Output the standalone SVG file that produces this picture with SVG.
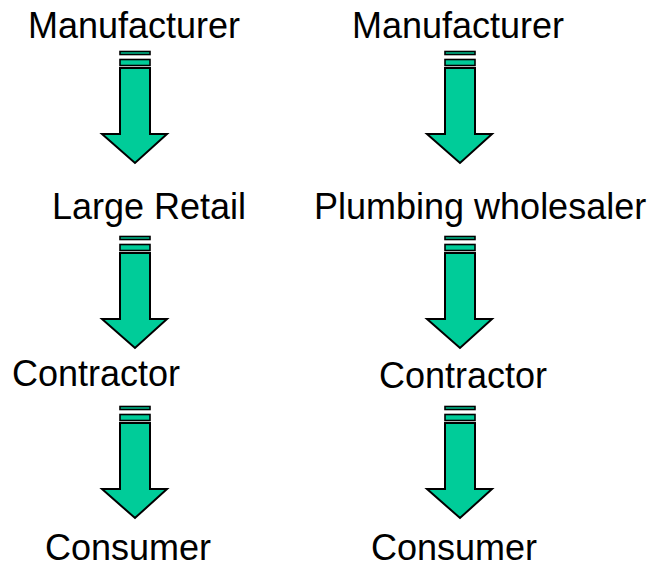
<svg xmlns="http://www.w3.org/2000/svg" xmlns:xlink="http://www.w3.org/1999/xlink" width="658" height="568" viewBox="0 0 658 568">
<style>
  .lbl { font-family: "Liberation Sans", Arial, sans-serif; font-size: 36px; fill: #000; }
  .ar { fill: #00CC99; stroke: #000; stroke-width: 2; stroke-linejoin: miter; }
  .st { fill: #00CC99; stroke: #000; stroke-width: 1.6; }
</style>
<defs>
  <g id="arrow">
    <rect class="st" x="-15" y="-16.5" width="30" height="3"/>
    <rect class="st" x="-15" y="-8.5" width="30" height="6"/>
    <path class="ar" d="M-15,0 H15 V66 H32 L0,95 L-33,66 H-15 Z"/>
  </g>
</defs>
<rect width="658" height="568" fill="#fff"/>
<g id="connectors">
  <use xlink:href="#arrow" transform="translate(135,68)"/>
  <use xlink:href="#arrow" transform="translate(135,253)"/>
  <use xlink:href="#arrow" transform="translate(135,423)"/>
  <use xlink:href="#arrow" transform="translate(460,68)"/>
  <use xlink:href="#arrow" transform="translate(460,253)"/>
  <use xlink:href="#arrow" transform="translate(460,423)"/>
</g>
<g id="n-manufacturer-l"><text class="lbl" x="28" y="38">Manufacturer</text></g>
<g id="n-largeretail"><text class="lbl" x="52" y="219">Large Retail</text></g>
<g id="n-contractor-l"><text class="lbl" x="12" y="386">Contractor</text></g>
<g id="n-consumer-l"><text class="lbl" x="45" y="560">Consumer</text></g>
<g id="n-manufacturer-r"><text class="lbl" x="352" y="38">Manufacturer</text></g>
<g id="n-plumbing"><text class="lbl" x="314" y="219">Plumbing wholesaler</text></g>
<g id="n-contractor-r"><text class="lbl" x="379" y="388">Contractor</text></g>
<g id="n-consumer-r"><text class="lbl" x="371" y="560">Consumer</text></g>
</svg>
